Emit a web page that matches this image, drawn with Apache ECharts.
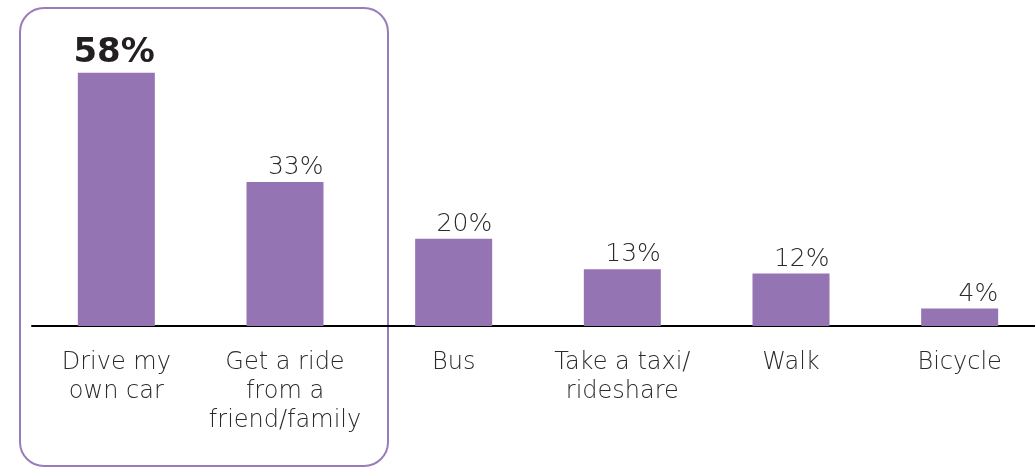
<!DOCTYPE html>
<html lang="en">
<head>
    <meta charset="UTF-8">
    <title>How people get there</title>
    <script src="https://cdn.jsdelivr.net/npm/echarts@6/dist/echarts.min.js"></script>
    <style>
        html, body { margin: 0; padding: 0; background: #fff; }
    </style>
</head>
<body>
<div id="main" style="width: 1035px;height: 468px"></div>
<script>
    var categories = ['Drive my\nown car', 'Get a ride\nfrom a\nfriend/family', 'Bus', 'Take a taxi/\nrideshare', 'Walk', 'Bicycle'];
    var shares = [58, 33, 20, 13, 12, 4];
    var highlightIndex = 0;   // the bold one

    var purple = '#9474b3';
    var textColor = '#2b2a2b';
    var thinFont = 'DejaVu Sans';

    var barData = shares.map(function (v, i) {
        var item = { value: v };
        if (i === highlightIndex) {
            item.label = {
                fontSize: 34,
                fontWeight: 'bold',
                color: '#231f20',
                position: [77, -3]
            };
        }
        return item;
    });

    var myChart = echarts.init(document.getElementById('main'));
    var option = {
        animation: false,
        grid: {
            left: 32,
            top: 64,
            width: 1012,
            bottom: 142,
            containLabel: false,
            outerBoundsMode: 'none'
        },
        graphic: [{
            type: 'rect',
            z: 0,
            shape: { x: 20, y: 8, width: 368, height: 458, r: 24 },
            style: { fill: 'none', stroke: '#9a7cba', lineWidth: 2 }
        }],
        xAxis: {
            type: 'category',
            data: categories,
            axisLine: { lineStyle: { color: '#000', width: 2 } },
            axisTick: { show: false },
            axisLabel: {
                interval: 0,
                margin: 22,
                fontFamily: thinFont,
                fontWeight: 200,
                fontSize: 24,
                lineHeight: 29,
                color: textColor
            }
        },
        yAxis: {
            type: 'value',
            min: 0,
            max: 60,
            show: false,
            splitLine: { show: false }
        },
        series: [{
            type: 'bar',
            data: barData,
            barWidth: 77,
            itemStyle: { color: purple },
            label: {
                show: true,
                position: [77, -2],
                align: 'right',
                verticalAlign: 'bottom',
                fontFamily: thinFont,
                fontWeight: 200,
                fontSize: 25,
                color: textColor,
                formatter: '{c}%'
            }
        }]
    };
    myChart.setOption(option);
</script>
</body>
</html>
